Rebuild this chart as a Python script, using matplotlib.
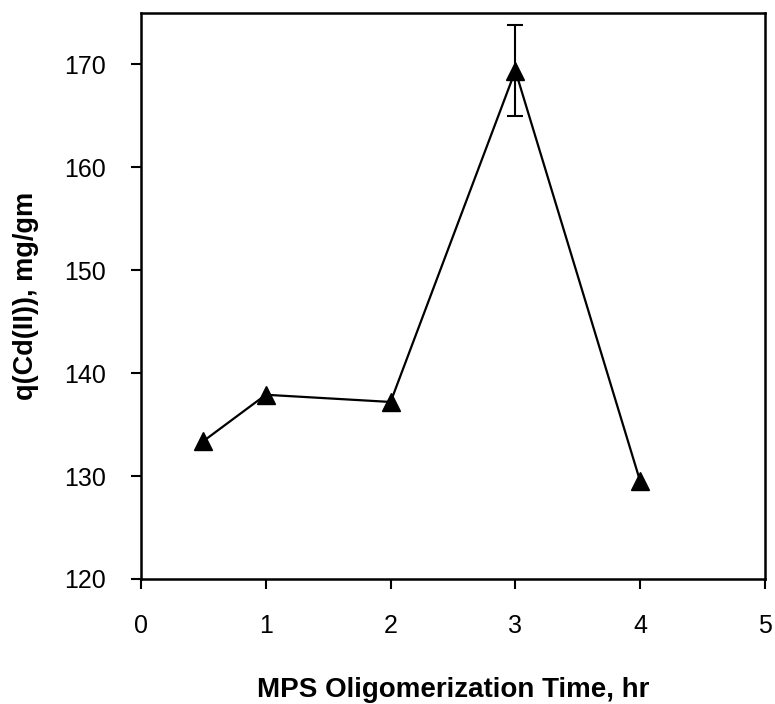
import matplotlib
matplotlib.use("Agg")
import matplotlib.pyplot as plt

plt.rcParams['font.family'] = ['Liberation Sans', 'DejaVu Sans']

time_hr = [0.5, 1, 2, 3, 4]
q_cd = [133.4, 137.9, 137.2, 169.4, 129.5]
q_err = [0, 0, 0, 4.4, 0]
x_ticks = [0, 1, 2, 3, 4, 5]
y_ticks = [120, 130, 140, 150, 160, 170]

fig = plt.figure(figsize=(7.75, 7.04), dpi=100)
ax = fig.add_axes([0.182, 0.1776, 0.805, 0.804])

ex = [t for t, e in zip(time_hr, q_err) if e > 0]
ey = [q for q, e in zip(q_cd, q_err) if e > 0]
ee = [e for e in q_err if e > 0]
ax.errorbar(ex, ey, yerr=ee, fmt='none',
            ecolor='black', elinewidth=1.5, capsize=6, capthick=1.5, zorder=2)
ax.plot(time_hr, q_cd, color='black', lw=1.6, marker='^', markersize=13,
        markerfacecolor='black', markeredgecolor='black', zorder=3)

ax.set_xlim(0, 5)
ax.set_ylim(120, 175)
ax.set_xticks(x_ticks)
ax.set_yticks(y_ticks)
ax.tick_params(axis='both', direction='out', length=7, width=1.5,
               labelsize=18, pad=18, top=False, right=False)
for s in ax.spines.values():
    s.set_linewidth(1.8)

ax.set_xlabel('MPS Oligomerization Time, hr', fontsize=20, fontweight='bold', labelpad=28)
ax.set_ylabel('q(Cd(II)), mg/gm', fontsize=19.5, fontweight='bold', labelpad=18)

fig.savefig('out.png', dpi=100)
